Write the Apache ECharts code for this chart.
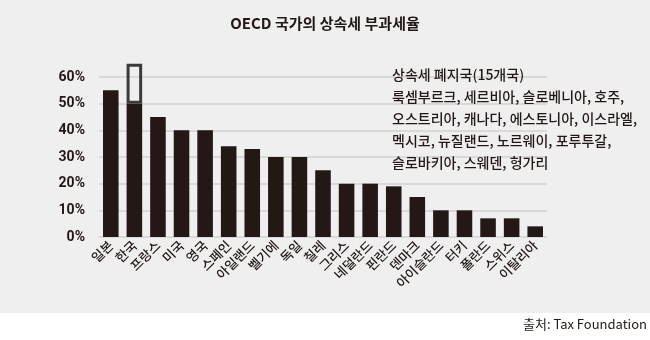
<!DOCTYPE html>
<html><head><meta charset="utf-8">
<script src="https://cdn.jsdelivr.net/npm/echarts@6/dist/echarts.min.js"></script>
<style>html,body{margin:0;padding:0;background:#fff}#c{width:650px;height:340px}</style>
</head><body><div id="c"></div>
<script>
const categories = ['일본','한국','프랑스','미국','영국','스페인','아일랜드','벨기에','독일','칠레','그리스','네덜란드','핀란드','덴마크','아이슬란드','터키','폴란드','스위스','이탈리아'];
const rates = [55,50,45,40,40,34,33,30,30,25,20,20,19,15,10,10,7,7,4];
const koreaExtra = [null,15,null,null,null,null,null,null,null,null,null,null,null,null,null,null,null,null,null];
const yTicks = [0,10,20,30,40,50,60];
const abolishedTitle = '상속세 폐지국(15개국)';
const abolishedLines = ['룩셈부르크, 세르비아, 슬로베니아, 호주,','오스트리아, 캐나다, 에스토니아, 이스라엘,','멕시코, 뉴질랜드, 노르웨이, 포루투갈,','슬로바키아, 스웨덴, 헝가리'];
const ink = '#231815';
const kr = '"Noto Sans CJK KR", sans-serif';
const chart = echarts.init(document.getElementById('c'));
const textEls = [abolishedTitle].concat(abolishedLines).map((t,i)=>({
  type:'text', left:392, top:68+i*22, z:10,
  style:{text:t, font:'500 14px "Noto Sans CJK KR", sans-serif', fill:ink}
}));
chart.setOption({
  backgroundColor:'#fff',
  animation:false,
  graphic:[
    {type:'rect', left:0, top:0, shape:{width:650,height:313}, style:{fill:'#efefef'}, z:-10},
    {type:'text', left:'center', top:16, style:{text:'OECD 국가의 상속세 부과세율', font:'bold 15px "Noto Sans CJK KR", sans-serif', fill:ink}},
    {type:'text', right:3, top:318, style:{text:'출처: Tax Foundation', font:'13px "Noto Sans CJK KR", sans-serif', fill:ink}}
  ].concat(textEls),
  grid:{left:99, right:103, top:77, bottom:103},
  xAxis:{type:'category', data:categories,
    axisLine:{show:false}, axisTick:{show:false},
    axisLabel:{interval:0, rotate:45, margin:6, fontSize:13, fontWeight:500, color:ink, fontFamily:kr}},
  yAxis:{type:'value', min:yTicks[0], max:yTicks[yTicks.length-1], interval:10,
    axisLine:{show:false}, axisTick:{show:false},
    axisLabel:{formatter:'{value}%', fontSize:14, color:ink, margin:14, fontFamily:'"Liberation Sans Narrow", "Roboto", sans-serif', fontWeight:'bold'},
    splitLine:{lineStyle:{color:'#d2d2d2', width:1.5}}},
  series:[
    {type:'bar', stack:'a', data:rates, barWidth:'66%', itemStyle:{color:ink}, silent:true},
    {type:'bar', stack:'a', data:koreaExtra, clip:false, itemStyle:{color:'rgba(0,0,0,0)', borderColor:'#3a3a3a', borderWidth:3}, silent:true}
  ]
});
</script></body></html>
